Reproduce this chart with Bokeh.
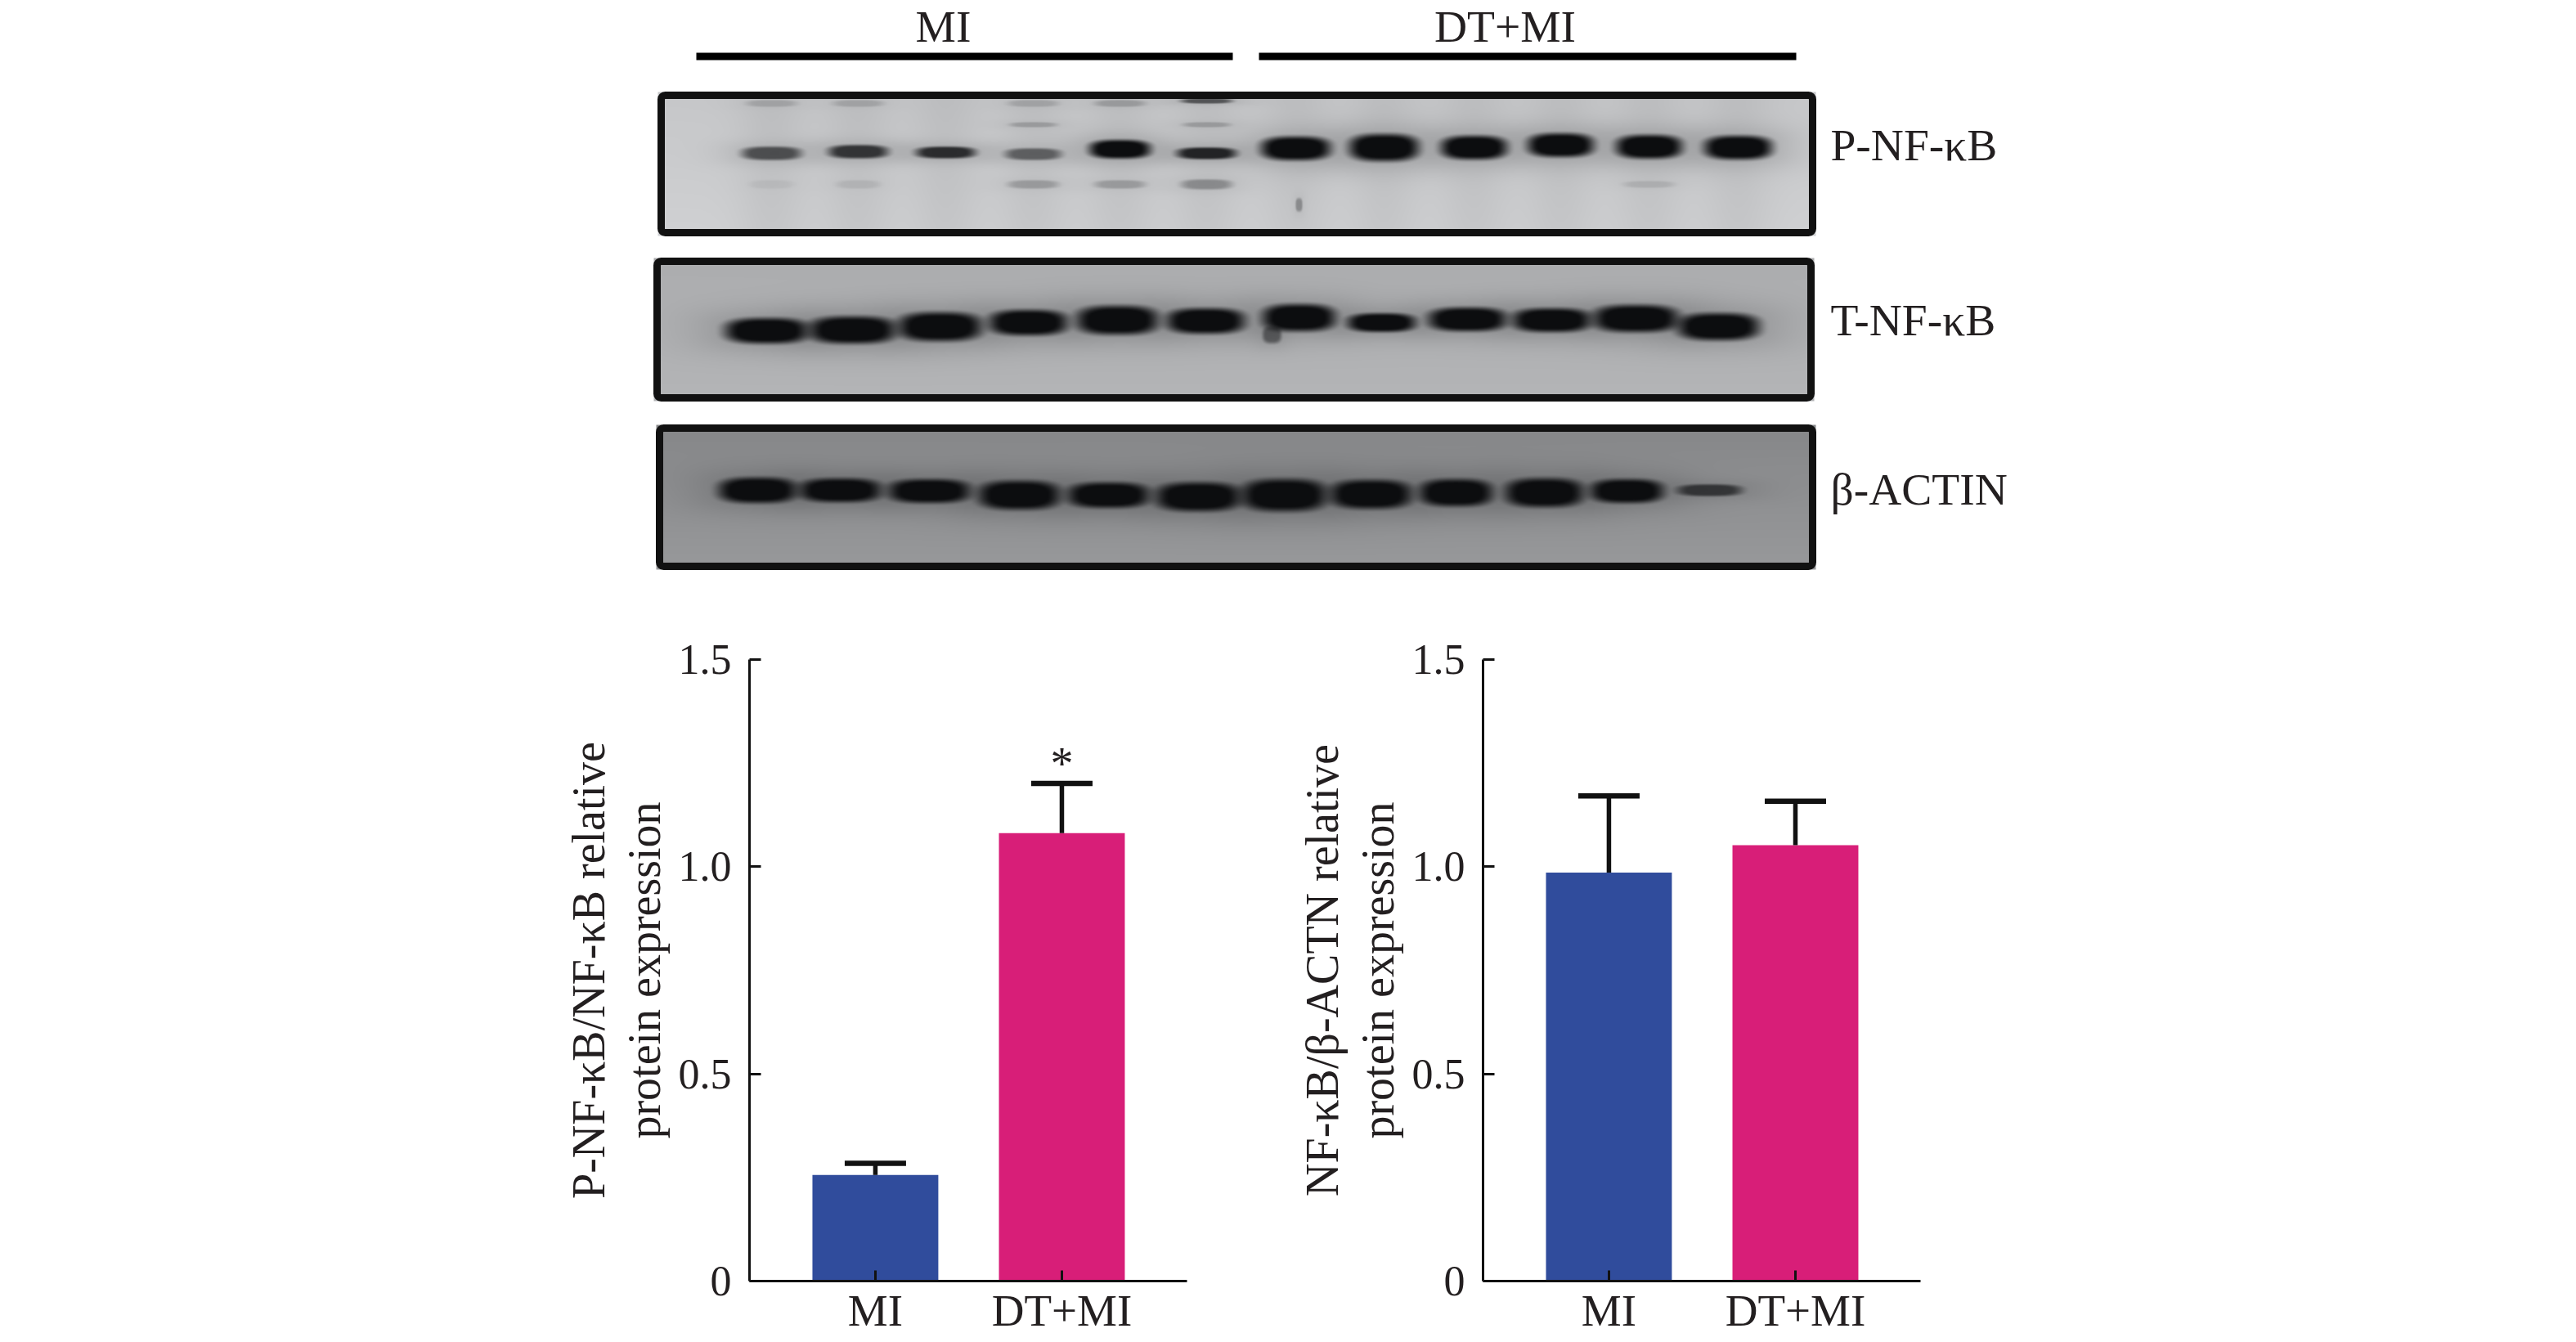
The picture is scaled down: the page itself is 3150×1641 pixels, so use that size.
import numpy as np
from bokeh.plotting import figure
from bokeh.layouts import column, row
from bokeh.models import Spacer, Whisker, TeeHead, ColumnDataSource, FixedTicker
from bokeh.core.properties import value
from bokeh.embed import file_html
from bokeh.resources import INLINE

FONT = "Liberation Serif"
INK = "#231f20"
BLUE = "#304c9c"
PINK = "#d81e78"

# bar charts
groups = ["MI", "DT+MI"]
phospho_values = [0.256, 1.081]
phospho_upper = [0.284, 1.201]
total_values = [0.986, 1.052]
total_upper = [1.171, 1.158]
y_tick_values = [0, 0.5, 1, 1.5]
y_tick_labels = ["0", "0.5", "1.0", "1.5"]
phospho_label = "P-NF-\u03baB/NF-\u03baB relative\nprotein expression"
total_label = "NF-\u03baB/\u03b2-ACTN relative\nprotein expression"

# blot panels: outer box (left, right, top, bottom) in picture pixels
box_left = [804, 799, 802]
box_right = [2220, 2218, 2220]
box_top = [112, 315, 519]
box_bottom = [288, 490, 696]
box_top_grey = [198, 172, 134]
box_bottom_grey = [208, 180, 152]
blot_names = ["P-NF-\u03baB", "T-NF-\u03baB", "\u03b2-ACTIN"]
name_center = [177, 391, 598]

# main band of each of the 12 lanes
p_x = [943, 1049, 1156, 1263, 1369, 1475, 1584, 1692, 1802, 1908, 2016, 2125]
p_y = [187, 185, 186, 188, 182, 187, 181, 180, 180, 177, 179, 180]
p_hw = [35, 35, 35, 33, 36, 35, 41, 41, 39, 39, 39, 40]
p_hh = [8, 8, 7, 7, 11, 7, 14, 16, 14, 14, 14, 14]
p_dark = [0.6, 0.75, 0.8, 0.5, 1, 0.85, 1, 1, 1, 1, 1, 1]

t_x = [937, 1042, 1149, 1257, 1366, 1474, 1588, 1689, 1794, 1897, 2000, 2101, 1555]
t_y = [404, 403, 399, 394, 391, 392, 388, 394, 390, 391, 389, 399, 409]
t_hw = [49, 51, 49, 46, 48, 46, 43, 40, 46, 46, 50, 48, 11]
t_hh = [15, 16, 17, 15, 17, 15, 16, 11, 14, 14, 16, 16, 10]
t_dark = [1] * 12 + [0.45]

a_x = [926, 1027, 1136, 1246, 1355, 1465, 1570, 1676, 1780, 1888, 1989, 2090]
a_y = [599, 599, 600, 605, 605, 607, 605, 604, 602, 602, 600, 599]
a_hw = [46, 48, 48, 48, 48, 50, 50, 48, 43, 46, 43, 38]
a_hh = [15, 14, 14, 17, 15, 17, 19, 17, 16, 17, 14, 7]
a_dark = [1, 1, 1, 1, 1, 1, 1, 1, 1, 1, 1, 0.65]

# faint extra bands of the first panel
f_x = [943, 1049, 1263, 1369, 1475, 1263, 1475, 943, 1049, 1263, 1369, 1475, 2016, 1588]
f_y = [126, 126, 126, 126, 123, 152, 152, 225, 225, 225, 225, 225, 225, 250]
f_hw = [30, 30, 30, 30, 30, 28, 28, 26, 26, 30, 30, 30, 30, 4]
f_hh = [4, 4, 4, 4, 3, 3, 3, 5, 5, 5, 5, 6, 4, 8]
f_dark = [0.14, 0.14, 0.14, 0.18, 0.55, 0.18, 0.18, 0.05, 0.08, 0.2, 0.2, 0.28, 0.1, 0.28]


def blot_image(i, bands, lane_shade):
    left, right, top, bottom = box_left[i], box_right[i], box_top[i], box_bottom[i]
    X, Y = np.meshgrid(np.arange(left, right) + 0.5, np.arange(top, bottom) + 0.5)
    t = (Y - top) / (bottom - top)
    grey = box_top_grey[i] + (box_bottom_grey[i] - box_top_grey[i]) * t
    for x in p_x if lane_shade else []:
        grey = grey - lane_shade * np.exp(-(((X - x) / 42) ** 2))
    keep = np.ones_like(grey)
    for bx, by, hw, hh, dark in zip(*bands):
        d = (np.abs((X - bx) / hw) ** 2.8 + np.abs((Y - by) / hh) ** 2.8) ** (1 / 2.8)
        core = np.clip((1.32 - d) / 0.64, 0, 1)
        core = core * core * (3 - 2 * core)
        halo = 0.18 * np.exp(-((d / 1.7) ** 2))
        keep = keep * (1 - dark * core) * (1 - dark * halo)
    grey = 12 + (grey - 12) * keep
    rgba = np.zeros(grey.shape + (4,), dtype=np.uint8)
    rgba[..., 0] = np.clip(grey, 0, 255)
    rgba[..., 1] = np.clip(grey + 1, 0, 255)
    rgba[..., 2] = np.clip(grey + 3, 0, 255)
    rgba[..., 3] = 255
    return rgba.view(dtype=np.uint32).reshape(grey.shape)


top = figure(width=3134, height=760, x_range=(0, 3134), y_range=(760, 0),
             output_backend="svg", toolbar_location=None, min_border=0,
             outline_line_color=None, x_axis_location=None, y_axis_location=None)
top.grid.visible = False

panel_bands = [
    (p_x + f_x, p_y + f_y, p_hw + f_hw, p_hh + f_hh, p_dark + f_dark),
    (t_x, t_y, t_hw, t_hh, t_dark),
    (a_x, a_y, a_hw, a_hh, a_dark),
]
for i, bands in enumerate(panel_bands):
    img = blot_image(i, bands, 10 if i == 0 else 0)
    top.image_rgba(image=[img], x=box_left[i], y=box_top[i],
                   dw=box_right[i] - box_left[i], dh=box_bottom[i] - box_top[i])
top.quad(left=[v + 4 for v in box_left], right=[v - 4 for v in box_right],
         top=[v + 4 for v in box_top], bottom=[v - 4 for v in box_bottom],
         fill_color=None, line_color="#111111", line_width=9, border_radius=5)

top.segment(x0=[851, 1539], x1=[1507, 2196], y0=[68.5, 68.5], y1=[68.5, 68.5],
            line_color="#000000", line_width=9)
top.text(x=[1153, 1840], y=[32, 32], text=groups, text_font=value(FONT),
         text_font_size="55.5px", text_color=INK, text_align="center",
         text_baseline="middle")
top.text(x=[2238, 2238, 2238], y=name_center, text=blot_names, text_font=value(FONT),
         text_font_size="55.5px", text_color=INK, text_align="left",
         text_baseline="middle")


def bar_panel(values, upper, label, star):
    p = figure(width=828, height=880, x_range=(-0.675, 1.671), y_range=(0, 1.5),
               output_backend="svg", toolbar_location=None, outline_line_color=None,
               min_border_left=264, min_border_right=29, min_border_top=46,
               min_border_bottom=74)
    p.grid.visible = False
    xs = list(range(len(groups)))
    p.vbar(x=xs, top=values, bottom=0, width=0.675, fill_color=[BLUE, PINK], line_color=None)
    src = ColumnDataSource(dict(x=xs, lower=values, upper=upper))
    p.add_layout(Whisker(source=src, base="x", lower="lower", upper="upper",
                         dimension="height", line_color="#111111", line_width=5.5,
                         upper_head=TeeHead(size=75, line_color="#111111", line_width=6.5),
                         lower_head=None, level="glyph"))
    if star:
        p.text(x=[1], y=[upper[1]], text=["*"], text_font=value(FONT),
               text_font_size="56px", text_color=INK, text_align="center",
               text_baseline="middle", y_offset=-24)

    ax = p.yaxis[0]
    ax.ticker = FixedTicker(ticks=y_tick_values)
    ax.major_label_overrides = dict(zip(y_tick_values, y_tick_labels))
    ax.minor_tick_line_color = None
    ax.major_tick_in, ax.major_tick_out = 14, 0
    ax.major_label_standoff = 22
    ax.axis_label = label
    ax.axis_label_standoff = 8
    ax.axis_label_text_font = FONT
    ax.axis_label_text_font_style = "normal"
    ax.axis_label_text_font_size = "56px"
    ax.axis_label_text_color = INK
    ax.axis_label_text_line_height = 1.09

    bx = p.xaxis[0]
    bx.ticker = FixedTicker(ticks=xs)
    bx.major_label_overrides = dict(zip(xs, groups))
    bx.minor_tick_line_color = None
    bx.major_tick_in, bx.major_tick_out = 13, 0
    bx.major_label_standoff = 5

    for a in (ax, bx):
        a.axis_line_color = "#111111"
        a.axis_line_width = 3
        a.major_tick_line_color = "#111111"
        a.major_tick_line_width = 3
        a.major_label_text_font = FONT
        a.major_label_text_color = INK
    ax.major_label_text_font_size = "52px"
    bx.major_label_text_font_size = "55px"
    return p


p1 = bar_panel(phospho_values, phospho_upper, phospho_label, True)
p2 = bar_panel(total_values, total_upper, total_label, False)

page = column(top, row(Spacer(width=652, height=880), p1, Spacer(width=69, height=880), p2),
              spacing=0)
open("out.html", "w").write(file_html(page, INLINE))
